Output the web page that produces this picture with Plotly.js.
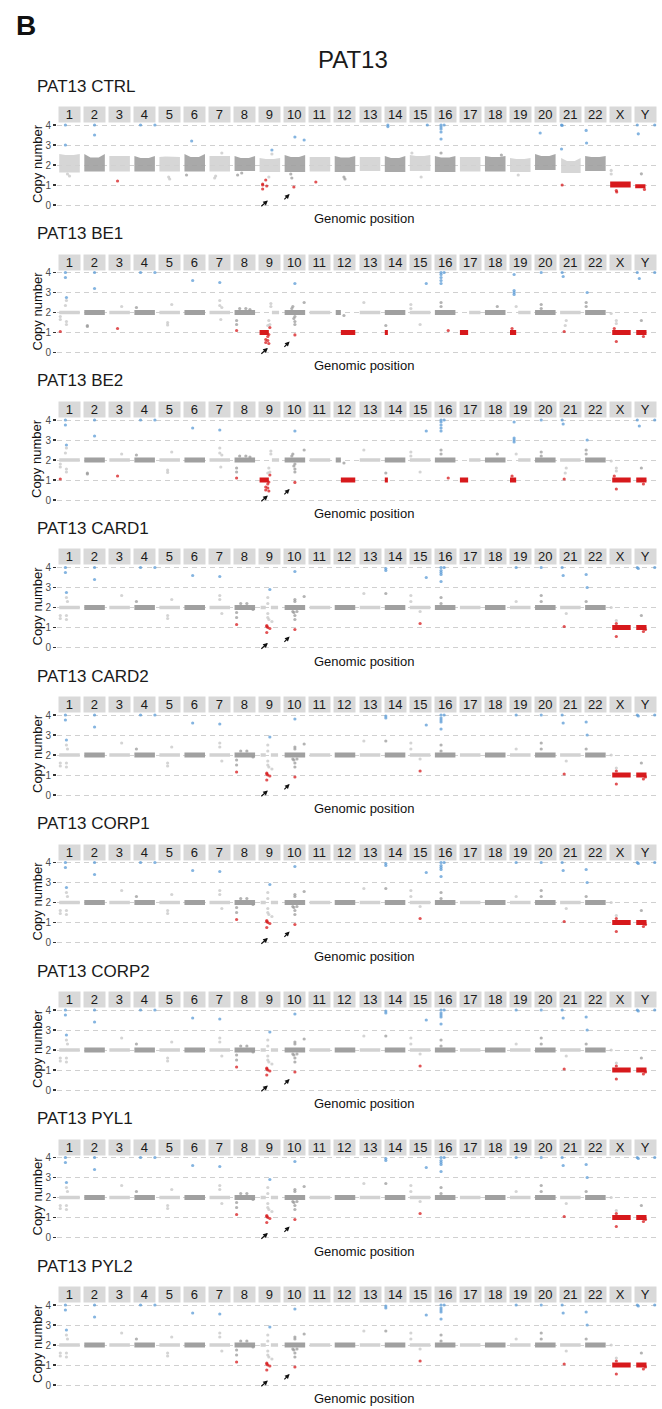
<!DOCTYPE html>
<html><head><meta charset="utf-8">
<script src="https://cdn.plot.ly/plotly-3.0.1.min.js"></script>
<style>html,body{margin:0;padding:0;background:#fff}#chart{width:662px;height:1409px}</style>
</head><body><div id="chart"></div>
<script>
// ---------- labels ----------
const chromLabels = ['1','2','3','4','5','6','7','8','9','10','11','12','13','14','15','16','17','18','19','20','21','22','X','Y'];
const panelNames = ['PAT13 CTRL','PAT13 BE1','PAT13 BE2','PAT13 CARD1','PAT13 CARD2','PAT13 CORP1','PAT13 CORP2','PAT13 PYL1','PAT13 PYL2'];
const panelProfile = ['ctrl','be','be','late','late','late','late','late','late'];
const yTicks = [0,1,2,3,4];
const mainTitle = 'PAT13';
const panelLetter = 'B';
const xTitle = 'Genomic position';
const yTitle = 'Copy number';

// ---------- CTRL profile: segments (chromosome, start/end fraction, low / high / high-in-middle copy number) ----------
const ctrlSegChrom = ['1','2','3','4','5','6','7','8','9','10','11','12','13','14','15','16','17','18','19','20','21','22','X','Y'];
const ctrlSegStart = [0,0,0,0,0,0,0,0,0,0,0,0,0,0,0,0,0,0,0,0,0.05,0,0,0];
const ctrlSegEnd   = [1,1,1,1,1,1,1,1,1,1,1,1,1,1,1,1,1,1,1,1,1,1,1,0.5];
const ctrlSegLow   = [1.62,1.67,1.68,1.67,1.68,1.68,1.68,1.7,1.65,1.65,1.68,1.65,1.7,1.65,1.7,1.65,1.68,1.68,1.65,1.75,1.6,1.7,0.87,0.84];
const ctrlSegHigh  = [2.55,2.55,2.45,2.45,2.4,2.55,2.45,2.45,2.35,2.5,2.4,2.45,2.4,2.45,2.5,2.45,2.4,2.45,2.35,2.55,2.35,2.45,1.17,1.04];
const ctrlSegHighMid = [2.5,2.38,2.45,2.35,2.42,2.4,2.45,2.35,2.3,2.4,2.4,2.38,2.4,2.35,2.45,2.38,2.4,2.4,2.3,2.45,2.2,2.4,1.17,1.04];
// CTRL outlier points
const ctrlPtChrom = ['1','1','1','1','2','2','3','4','4','5','5','6','6','7','7','7','8','8','9','9','9','9','9','9','9','9','10','10','10','10','10','11','12','12','14','14','15','15','15','16','16','16','16','16','16','16','18','19','20','21','21','21','21','22','22','X','X','X','X','Y','Y','Y','Y','Y'];
const ctrlPtPos   = [0.3,0.3,0.4,0.5,0.5,0.5,0.4,0.3,1.0,0.45,0.5,0.35,0.1,0.6,0.3,0.25,0.15,0.35,0.6,0.6,0.45,0.3,0.15,0.15,0.35,0.15,0.5,0.3,0.35,0.45,0.95,0.3,0.45,0.5,0.15,0.15,0.85,0.1,0.55,0.3,0.3,0.3,0.3,0.3,0.45,0.3,0.8,0.4,0.25,0.07,0.1,0.07,0.1,0.05,0.07,0.05,0.05,0.3,0.32,0.1,0.15,0.95,0.3,0.45];
const ctrlPtCN    = [4.0,3.0,1.55,1.45,4.0,3.5,1.2,4.0,4.0,1.4,1.3,3.2,1.5,2.6,1.45,1.35,1.5,1.6,2.75,2.55,1.4,1.25,1.05,1.0,0.95,0.8,3.4,1.55,1.35,0.9,3.25,1.15,1.4,1.3,4.0,3.92,4.0,2.6,1.4,4.0,3.9,3.8,3.65,3.3,4.0,2.6,2.5,1.5,3.6,4.0,3.98,2.8,1.0,3.73,3.1,1.73,1.55,0.72,0.65,4.0,3.56,4.0,1.56,0.78];

// ---------- BE profile (BE1, BE2) ----------
const beSegChrom = ['1','2','3','4','5','6','7','8','9','9','10','11','12','12','13','14','14','15','16','17','17','18','19','19','20','21','22','X','Y'];
const beSegStart = [0,0,0,0,0,0,0,0,0,0.6,0,0,0.05,0.3,0,0,0.0,0,0,0,0.45,0,0,0.4,0,0,0,0.1,0.05];
const beSegEnd   = [1,1,1,1,1,1,1,1,0.45,0.95,1,1,0.3,1,1,1,0.15,1,1,0.4,1,1,0.3,1,1,1,1,1,0.55];
const beSegCN    = [2,2,2,2,2,2,2,2,1,2,2,2,2,1,2,2,1,2,2,1,2,2,1,2,2,2,2,1,1];
const bePtChrom = ['1','1','1','1','1','1','1','1','1','1','2','2','2','2','3','3','4','4','4','5','5','5','6','7','7','7','7','7','8','8','8','8','8','8','9','9','9','9','9','9','9','9','9','9','9','9','10','10','10','10','10','10','10','10','10','12','13','14','15','15','15','15','16','16','16','16','16','16','16','16','16','18','19','19','19','19','19','19','20','20','20','21','21','21','21','21','22','22','22','X','X','X','X','X','Y','Y','Y','Y','Y'];
const bePtPos   = [0.3,0.3,0.05,0.35,0.35,0.3,0.35,0.35,0.05,0.05,0.5,0.5,0.15,0.15,0.6,0.4,0.3,1.0,0.1,0.6,0.4,0.4,0.4,0.5,0.5,0.5,0.6,0.55,0.1,0.1,0.1,0.25,0.55,0.75,0.45,0.4,0.3,0.4,0.3,0.45,0.5,0.5,0.4,0.55,0.55,0.45,0.5,0.4,0.35,0.5,0.45,0.5,0.5,0.5,0.95,0.45,0.2,0.05,0.05,0.05,0.8,0.5,0.3,0.3,0.3,0.3,0.3,0.45,0.3,0.3,0.65,0.6,0.2,0.2,0.2,0.2,0.3,0.1,0.3,0.3,0.3,0.1,0.15,0.3,0.25,0.2,0.1,0.05,0.05,0.05,0.3,0.3,0.2,0.3,0.1,0.2,0.95,0.3,0.4];
const bePtCN    = [4.0,3.75,1.05,2.75,2.6,2.35,1.55,1.4,1.65,1.8,4.0,3.2,1.35,1.3,2.3,1.2,4.0,4.0,2.25,2.4,1.5,1.38,3.6,3.5,2.6,2.35,2.25,1.65,1.6,1.4,1.1,2.2,2.2,2.15,0.9,0.8,0.65,0.6,0.5,0.45,1.4,1.25,1.35,2.45,2.3,1.6,3.45,2.3,2.2,1.8,1.7,1.55,1.4,0.88,2.5,1.85,2.5,1.35,2.4,2.2,3.45,1.4,4.0,3.9,3.75,3.6,3.45,4.0,2.5,2.3,1.1,2.3,3.9,3.1,3.0,2.9,2.3,1.2,4.0,2.4,2.2,4.0,3.8,1.6,1.35,1.05,3.0,2.5,2.3,1.95,1.6,1.45,1.2,0.55,4.0,3.7,4.0,1.6,0.8];

// ---------- later profile (CARD1, CARD2, CORP1, CORP2, PYL1, PYL2) ----------
const lateSegChrom = ['1','2','3','4','5','6','7','8','9','9','10','11','12','13','14','15','16','17','18','19','20','21','22','X','Y'];
const lateSegStart = [0,0,0,0,0,0,0,0,0.05,0.55,0,0,0,0,0,0,0,0,0,0,0,0,0,0.1,0.05];
const lateSegEnd   = [1,1,1,1,1,1,1,1,0.3,0.9,1,1,1,1,1,1,1,1,1,1,1,1,1,1,0.55];
const lateSegCN    = [2,2,2,2,2,2,2,2,2,2,2,2,2,2,2,2,2,2,2,2,2,2,2,1,1];
const latePtChrom = ['1','1','1','1','1','1','1','1','1','2','2','3','4','4','4','5','5','5','6','7','7','7','7','8','8','8','8','8','8','9','9','9','9','9','9','9','9','9','9','9','9','10','10','10','10','10','10','10','10','10','10','13','14','14','14','15','15','15','15','15','16','16','16','16','16','16','16','16','19','19','20','20','20','21','21','21','21','22','22','22','X','X','X','X','Y','Y','Y','Y','Y','Y'];
const latePtPos   = [0.3,0.3,0.35,0.35,0.4,0.05,0.05,0.35,0.35,0.5,0.5,0.6,0.3,1.0,0.1,0.6,0.4,0.4,0.4,0.5,0.5,0.5,0.6,0.1,0.1,0.1,0.3,0.6,0.9,0.5,0.4,0.4,0.4,0.4,0.45,0.6,0.35,0.35,0.4,0.5,0.35,0.5,0.5,0.5,0.4,0.45,0.5,0.5,0.6,0.5,0.95,0.2,0.05,0.05,0.05,0.05,0.05,0.5,0.8,0.5,0.3,0.3,0.3,0.3,0.3,0.45,0.3,0.3,0.3,0.3,0.3,0.3,0.3,0.1,0.15,0.3,0.2,0.05,0.1,0.05,0.05,0.3,0.3,0.3,0.1,0.15,0.95,0.3,0.4,0.5];
const latePtCN    = [4.0,3.75,2.75,2.5,2.3,1.6,1.45,1.4,1.6,4.0,3.4,2.6,4.0,4.0,2.3,2.4,1.6,1.45,3.6,3.55,2.6,2.4,1.7,1.75,1.5,1.15,2.2,2.2,1.9,2.9,2.5,2.2,1.7,1.5,1.4,1.3,1.1,1.05,1.0,0.95,0.75,3.8,2.4,2.3,1.8,1.75,1.6,1.4,1.8,0.9,2.55,2.7,3.95,3.85,2.7,2.6,2.3,1.8,3.5,1.2,4.0,3.85,3.75,3.65,3.3,4.0,2.5,2.2,4.0,2.3,4.0,2.6,2.3,4.0,3.6,1.7,1.05,3.65,3.0,2.3,2.0,1.35,1.2,0.55,4.0,3.95,4.0,1.6,0.8,0.9];

// ---------- arrows (tail -> head, in chromosome-slot / copy-number units) ----------
const arrowTailX = [7.60, 8.52];
const arrowTailY = [-0.13, 0.21];
const arrowHeadX = [7.92, 8.79];
const arrowHeadY = [0.23, 0.55];

// ---------- build ----------
const W = 662, H = 1409;
const FONT = '"Liberation Sans", Arial, Helvetica, sans-serif';
const STEP = 147.5;
const COL = {blue:'#5b9bd5', red:'#d7191c', lightPt:'#c6c6c6', darkPt:'#999999', lightBand:'#d2d2d2', darkBand:'#a0a0a0'};

function bandHalf(c, chrom){ return c < 1.5 ? 0.13 : (chromLabels.indexOf(chrom) % 2 ? 0.12 : 0.09); }
const profiles = {
  ctrl: {segChrom:ctrlSegChrom, segStart:ctrlSegStart, segEnd:ctrlSegEnd,
         segLow:ctrlSegLow, segHigh:ctrlSegHigh, segHighMid:ctrlSegHighMid,
         ptChrom:ctrlPtChrom, ptPos:ctrlPtPos, ptCN:ctrlPtCN},
  be:   {segChrom:beSegChrom, segStart:beSegStart, segEnd:beSegEnd,
         segLow:beSegCN.map((c,j)=>c-bandHalf(c, beSegChrom[j])),
         segHigh:beSegCN.map((c,j)=>c+bandHalf(c, beSegChrom[j])),
         ptChrom:bePtChrom, ptPos:bePtPos, ptCN:bePtCN},
  late: {segChrom:lateSegChrom, segStart:lateSegStart, segEnd:lateSegEnd,
         segLow:lateSegCN.map((c,j)=>c-bandHalf(c, lateSegChrom[j])),
         segHigh:lateSegCN.map((c,j)=>c+bandHalf(c, lateSegChrom[j])),
         ptChrom:latePtChrom, ptPos:latePtPos, ptCN:latePtCN}
};

function xPos(chrom, f){ const k = chromLabels.indexOf(chrom); return k - 0.41 + 0.82*f; }
function py(p){ return 1 - p/H; }

const traces = [];
const annotations = [];
const layout = {width:W, height:H, margin:{l:0,r:0,t:0,b:0}, showlegend:false,
  paper_bgcolor:'#ffffff', plot_bgcolor:'rgba(0,0,0,0)', font:{family:FONT}, annotations};

annotations.push({text:'<b>'+panelLetter+'</b>', xref:'paper', yref:'paper', x:14/W, y:py(25), xanchor:'left', yanchor:'middle', showarrow:false, font:{family:FONT, size:28, color:'#111'}});
annotations.push({text:mainTitle, xref:'paper', yref:'paper', x:353/W, y:py(60), xanchor:'center', yanchor:'middle', showarrow:false, font:{family:FONT, size:24, color:'#1a1a1a'}});

panelNames.forEach((name, i) => {
  const ax = i === 0 ? '' : String(i+1);
  const xa = 'x'+ax, ya = 'y'+ax;
  const off = i*STEP;
  layout['xaxis'+ax] = {domain:[57/W, 658/W], range:[-0.5, 23.5], showgrid:false, zeroline:false,
    showticklabels:false, ticks:'', showline:false, anchor:ya, fixedrange:true};
  layout['yaxis'+ax] = {domain:[py(209+off), py(121+off)], range:[-0.2, 4.2], tickvals:yTicks,
    ticks:'outside', ticklen:3, tickwidth:1.2, tickcolor:'#333', showgrid:true, gridcolor:'#c4c4c4',
    griddash:'5px,4px', gridwidth:0.8, zeroline:false, showline:false,
    tickfont:{family:FONT, size:10, color:'#4d4d4d'}, anchor:xa, fixedrange:true};

  const p = profiles[panelProfile[i]];
  const groups = {lightBand:{x:[],y:[]}, darkBand:{x:[],y:[]}, red:{x:[],y:[]}};
  p.segChrom.forEach((c, j) => {
    const k = chromLabels.indexOf(c);
    const mid = (p.segLow[j] + p.segHigh[j]) / 2;
    const g = mid < 1.5 ? 'red' : (k % 2 ? 'darkBand' : 'lightBand');
    const x0 = xPos(c, p.segStart[j]), x1 = xPos(c, p.segEnd[j]);
    const xa1 = x0 + (x1 - x0) * 0.3, xa2 = x0 + (x1 - x0) * 0.7;
    const hm = p.segHighMid ? p.segHighMid[j] : p.segHigh[j];
    groups[g].x.push(x0, x1, x1, xa2, xa1, x0, x0, null);
    groups[g].y.push(p.segLow[j], p.segLow[j], p.segHigh[j], hm, hm, p.segHigh[j], p.segLow[j], null);
  });
  Object.keys(groups).forEach(g => {
    traces.push({type:'scatter', mode:'lines', x:groups[g].x, y:groups[g].y, fill:'toself',
      fillcolor:COL[g], line:{width:0, color:COL[g]}, xaxis:xa, yaxis:ya, hoverinfo:'skip',
      opacity: i === 0 && g !== 'red' ? 0.9 : 1});
  });
  const px = [], pyv = [], pc = [];
  p.ptChrom.forEach((c, j) => {
    const k = chromLabels.indexOf(c);
    const v = p.ptCN[j];
    px.push(xPos(c, p.ptPos[j])); pyv.push(v);
    pc.push(v >= 2.75 ? COL.blue : (v <= 1.25 ? COL.red : (k % 2 ? COL.darkPt : COL.lightPt)));
  });
  traces.push({type:'scatter', mode:'markers', x:px, y:pyv, marker:{size:3.2, color:pc, opacity:0.75},
    xaxis:xa, yaxis:ya, hoverinfo:'skip', cliponaxis:false});

  annotations.push({text:name, xref:'paper', yref:'paper', x:35/W, y:py(86+off), xanchor:'left', yanchor:'middle',
    showarrow:false, font:{family:FONT, size:17, color:'#1a1a1a'}});
  chromLabels.forEach((lab, k) => {
    annotations.push({text:lab, xref:xa, yref:'paper', x:k, y:py(114.5+off), xanchor:'center', yanchor:'middle',
      showarrow:false, bgcolor:'#d9d9d9', width:18.5, height:13, borderpad:1,
      font:{family:FONT, size:13, color:'#1a1a1a'}});
  });
  annotations.push({text:yTitle, xref:'paper', yref:'paper', x:37/W, y:py(164+off), xanchor:'center', yanchor:'middle',
    textangle:-90, showarrow:false, font:{family:FONT, size:13, color:'#111'}});
  annotations.push({text:xTitle, xref:'paper', yref:'paper', x:364/W, y:py(218.5+off), xanchor:'center', yanchor:'middle',
    showarrow:false, font:{family:FONT, size:13, color:'#111'}});
  arrowHeadX.forEach((hx, a) => {
    annotations.push({text:'', xref:xa, yref:ya, axref:xa, ayref:ya, x:hx, y:arrowHeadY[a],
      ax:arrowTailX[a], ay:arrowTailY[a], showarrow:true, arrowhead:2, arrowsize:0.8, arrowwidth:1.2,
      arrowcolor:'#111', standoff:0, startstandoff:0});
  });
});

Plotly.newPlot('chart', traces, layout, {staticPlot:true, displayModeBar:false});
</script>
</body></html>
